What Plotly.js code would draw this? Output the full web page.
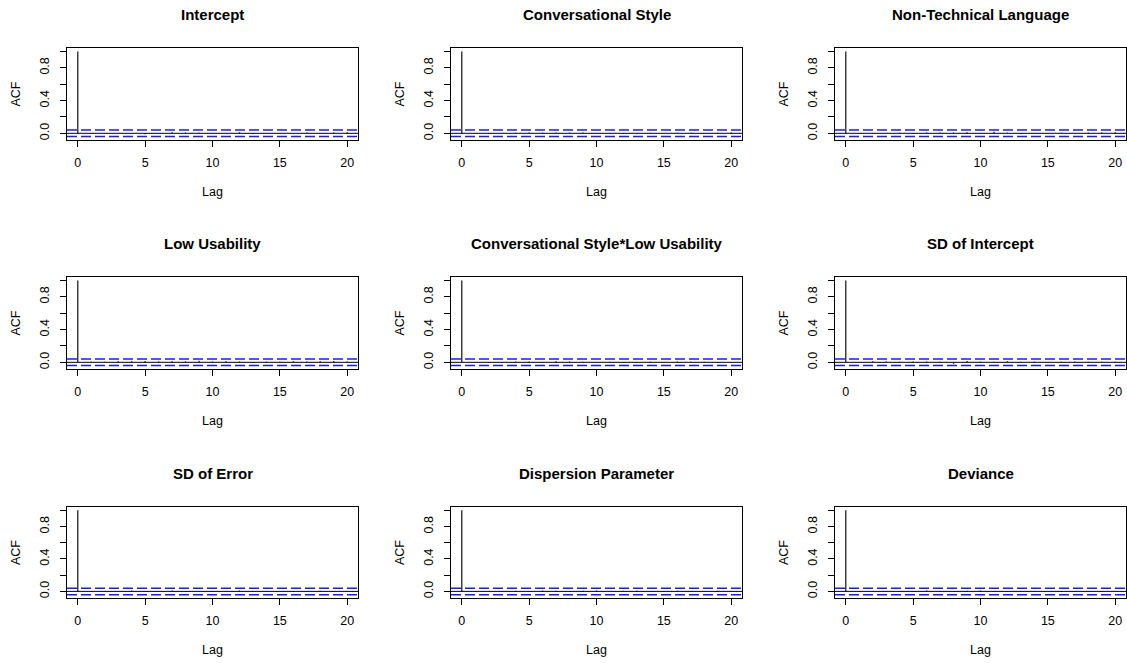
<!DOCTYPE html>
<html>
<head>
<meta charset="utf-8">
<script src="https://cdn.plot.ly/plotly-3.0.1.min.js"></script>
<style>html,body{margin:0;padding:0;background:#fff}#chart{width:1127px;height:663px}</style>
</head>
<body>
<div id="chart"></div>
<script>
// ---- data ----
const panelTitles = ["Intercept", "Conversational Style", "Non-Technical Language",
  "Low Usability", "Conversational Style*Low Usability", "SD of Intercept",
  "SD of Error", "Dispersion Parameter", "Deviance"];
const lags = [0,1,2,3,4,5,6,7,8,9,10,11,12,13,14,15,16,17,18,19,20];
const xTickVals = [0,5,10,15,20];
const yTickVals = [0,0.2,0.4,0.6,0.8,1.0];
const yTickText = ["0.0","","0.4","","0.8",""];
const confLimit = 0.04;
const acfIntercept   = [1, 0.004,-0.003, 0.002,-0.005,-0.011, 0.003, 0.012, 0.009, 0.007,-0.002, 0.003, 0.013,-0.009, 0.002,-0.006, 0.004, 0.010,-0.003, 0.010, 0.012];
const acfConvStyle   = [1,-0.006,-0.008, 0.004, 0.007, 0.010, 0.008, 0.009, 0.008, 0.009,-0.003,-0.006,-0.007,-0.005, 0.006, 0.002, 0.006, 0.006,-0.003, 0.008, 0.010];
const acfNonTech     = [1, 0.003,-0.005, 0.004, 0.006,-0.009, 0.010, 0.011, 0.009, 0.012,-0.004, 0.018, 0.008,-0.009, 0.004,-0.005, 0.007, 0.005, 0.009, 0.010, 0.012];
const acfLowUsab     = [1, 0.006, 0.008, 0.014, 0.012, 0.016, 0.011, 0.013, 0.012, 0.018, 0.010, 0.012, 0.010,-0.008, 0.009, 0.006, 0.012, 0.010, 0.013, 0.016, 0.011];
const acfInteraction = [1, 0.004,-0.006,-0.008, 0.009, 0.010,-0.009, 0.012, 0.010, 0.008, 0.004, 0.006,-0.003,-0.006, 0.008, 0.004, 0.010, 0.006, 0.008,-0.008,-0.004];
const acfSDIntercept = [1, 0.004, 0.014, 0.010, 0.008, 0.009, 0.010, 0.008,-0.018, 0.016, 0.008, 0.006, 0.013, 0.006, 0.009, 0.005, 0.007, 0.010, 0.008, 0.007, 0.006];
const acfSDError     = [1, 0.004,-0.006,-0.009, 0.012,-0.008,-0.007, 0.010,-0.008, 0.004,-0.007, 0.005, 0.010,-0.009, 0.006,-0.005, 0.004,-0.006, 0.008,-0.007,-0.006];
const acfDispersion  = [1, 0.005,-0.004, 0.006, 0.008,-0.006, 0.010, 0.007,-0.005, 0.009, 0.012,-0.004, 0.006, 0.008,-0.006, 0.005, 0.007,-0.004, 0.006, 0.008, 0.005];
const acfDeviance    = [1, 0.004,-0.008,-0.007, 0.005,-0.009, 0.012, 0.006, 0.004, 0.008, 0.010, 0.006,-0.005, 0.004, 0.006,-0.004, 0.005,-0.009, 0.006, 0.004,-0.005];
const acfSeries = [acfIntercept, acfConvStyle, acfNonTech, acfLowUsab, acfInteraction,
  acfSDIntercept, acfSDError, acfDispersion, acfDeviance];

// ---- layout geometry (pixels) ----
const W = 1127, H = 663;
const colL = [67, 451, 835], colR = [358, 742, 1126];
const rowT = [48, 277, 507], rowB = [140, 369, 598];
const FONT = "Liberation Sans, Arial, Helvetica, sans-serif";
const px = v => v / W, py = v => 1 - v / H;

const traces = [], shapes = [], annotations = [];
const layout = {
  width: W, height: H, margin: {l:0, r:0, t:0, b:0},
  paper_bgcolor: "#fff", plot_bgcolor: "#fff", showlegend: false,
  font: {family: FONT, size: 12, color: "#000"}
};

acfSeries.forEach((acf, i) => {
  const r = Math.floor(i / 3), c = i % 3, n = i + 1;
  const xa = "x" + (n === 1 ? "" : n), ya = "y" + (n === 1 ? "" : n);
  const lo = Math.min(-confLimit, Math.min(...acf)), hi = Math.max(1, ...acf);
  const pad = (hi - lo) * 0.04;
  const xlo = Math.min(...lags), xhi = Math.max(...lags), xpad = (xhi - xlo) * 0.04;
  layout["xaxis" + (n === 1 ? "" : n)] = {
    domain: [px(colL[c]), px(colR[c])], anchor: ya,
    range: [xlo - xpad, xhi + xpad], tickmode: "array", tickvals: xTickVals,
    ticks: "outside", ticklen: 6, tickwidth: 1, tickcolor: "#000",
    showline: true, mirror: true, linecolor: "#000", linewidth: 1,
    showgrid: false, zeroline: false, ticklabelstandoff: 5,
    tickfont: {family: FONT, size: 12.5, color: "#000"}
  };
  layout["yaxis" + (n === 1 ? "" : n)] = {
    domain: [py(rowB[r]), py(rowT[r])], anchor: xa,
    range: [lo - pad, hi + pad], tickmode: "array", tickvals: yTickVals, ticktext: yTickText,
    ticks: "outside", ticklen: 6, tickwidth: 1, tickcolor: "#000", tickangle: -90,
    showline: true, mirror: true, linecolor: "#000", linewidth: 1,
    showgrid: false, zeroline: false, ticklabelstandoff: 6,
    tickfont: {family: FONT, size: 12.5, color: "#000"}
  };
  // spikes
  const sx = [], sy = [];
  lags.forEach((l, k) => { sx.push(l, l, null); sy.push(0, acf[k], null); });
  traces.push({type: "scatter", mode: "lines", x: sx, y: sy, xaxis: xa, yaxis: ya,
    line: {color: "#222", width: 1.3}, hoverinfo: "skip"});
  // zero line and confidence limits
  shapes.push({type: "line", xref: xa + " domain", yref: ya, x0: 0, x1: 1, y0: 0, y1: 0,
    line: {color: "#000", width: 1}});
  [confLimit, -confLimit].forEach(v => shapes.push({type: "line", xref: xa + " domain", yref: ya,
    x0: 0, x1: 1, y0: v, y1: v, line: {color: "#1a1aff", width: 1.5, dash: "10px,4px"}}));
  const cx = (colL[c] + colR[c]) / 2;
  annotations.push({text: "<b>" + panelTitles[i] + "</b>", xref: "paper", yref: "paper",
    x: px(cx), y: py(rowT[r] - 34), xanchor: "center", yanchor: "middle", showarrow: false,
    font: {family: FONT, size: 15, color: "#000"}});
  annotations.push({text: "Lag", xref: "paper", yref: "paper",
    x: px(cx), y: py(rowB[r] + 52), xanchor: "center", yanchor: "middle", showarrow: false,
    font: {family: FONT, size: 12.5, color: "#000"}});
  annotations.push({text: "ACF", xref: "paper", yref: "paper", textangle: -90,
    x: px(colL[c] - 51.5), y: py((rowT[r] + rowB[r]) / 2), xanchor: "center", yanchor: "middle",
    showarrow: false, font: {family: FONT, size: 12.5, color: "#000"}});
});
layout.shapes = shapes;
layout.annotations = annotations;
Plotly.newPlot("chart", traces, layout, {displayModeBar: false, staticPlot: true});
</script>
</body>
</html>
